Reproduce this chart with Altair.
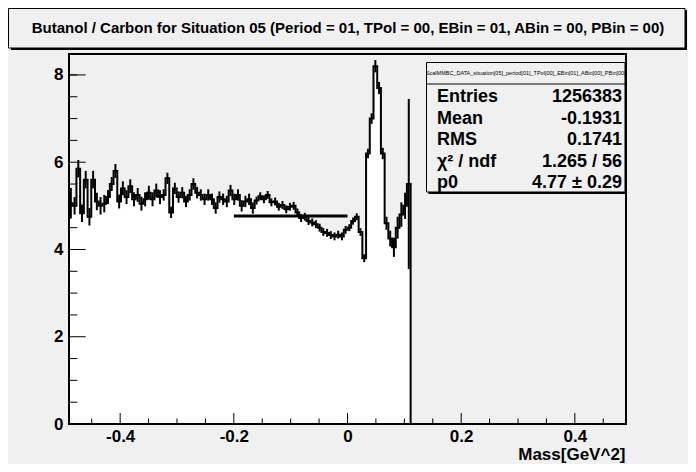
import altair as alt
import pandas as pd

# ---------------- data ----------------
x_min, x_max, n_bins = -0.49, 0.49, 150

filled_values = [
    5.06, 5.00, 5.85, 4.83, 5.60, 4.75, 5.60, 5.10, 5.00, 5.05,
    5.20, 5.50, 5.80, 5.10, 5.40, 5.20, 5.45, 5.15, 5.25, 5.05,
    5.15, 5.30, 5.15, 5.35, 5.20, 5.25, 5.63, 4.85, 5.40, 5.20,
    5.30, 5.10, 5.25, 5.50, 5.30, 5.25, 5.15, 5.25, 5.15, 4.95,
    5.20, 5.15, 5.10, 5.35, 5.15, 5.25, 5.00, 5.10, 5.15, 4.95,
    5.12, 5.22, 5.15, 5.25, 5.08, 5.10, 4.98, 5.02, 4.92, 4.98,
    5.00, 4.85, 4.72, 4.75, 4.65, 4.62, 4.58, 4.50, 4.40, 4.38,
    4.33, 4.30, 4.34, 4.30, 4.45, 4.50, 4.65, 4.75, 4.40, 3.80,
    6.20, 7.00, 8.20, 7.70, 6.20, 4.60, 4.25, 4.05, 4.50, 4.80,
    5.00, 5.50,
]
filled_errors = [
    0.35, 0.20, 0.20, 0.20, 0.20, 0.20, 0.20, 0.20, 0.20, 0.20,
    0.16, 0.16, 0.16, 0.16, 0.16, 0.16, 0.16, 0.16, 0.16, 0.16,
    0.16, 0.16, 0.16, 0.16, 0.16, 0.13, 0.13, 0.13, 0.13, 0.13,
    0.13, 0.13, 0.13, 0.13, 0.13, 0.13, 0.13, 0.13, 0.13, 0.13,
    0.13, 0.13, 0.13, 0.13, 0.13, 0.13, 0.13, 0.13, 0.13, 0.13,
    0.09, 0.09, 0.09, 0.09, 0.09, 0.09, 0.09, 0.09, 0.09, 0.09,
    0.09, 0.09, 0.09, 0.09, 0.09, 0.09, 0.09, 0.09, 0.09, 0.09,
    0.09, 0.09, 0.09, 0.09, 0.09, 0.08, 0.08, 0.08, 0.09, 0.09,
    0.11, 0.12, 0.14, 0.14, 0.13, 0.15, 0.18, 0.22, 0.25, 0.28,
    0.30, 1.95,
]
empty_values = [0.0] * (n_bins - len(filled_values))
empty_errors = [0.0] * (n_bins - len(filled_errors))

fit_range = [-0.2, 0.0]
fit_p0 = 4.77

x_major = [-0.4, -0.2, 0.0, 0.2, 0.4]
x_minor = [-0.45, -0.35, -0.3, -0.25, -0.15, -0.1, -0.05, 0.05, 0.1, 0.15,
           0.25, 0.3, 0.35, 0.45]
y_major = [0, 2, 4, 6, 8]
y_minor = [0.5, 1, 1.5, 2.5, 3, 3.5, 4.5, 5, 5.5, 6.5, 7, 7.5, 8]
y_max = 8.48

title_text = "Butanol / Carbon for Situation 05 (Period = 01, TPol = 00, EBin = 01, ABin = 00, PBin = 00)"
stats_header = "ScalMMBC_DATA_situation[05]_period[01]_TPol[00]_EBin[01]_ABin[00]_PBin[00]"
stat_labels = ["Entries", "Mean", "RMS", "\u03c7\u00b2 / ndf", "p0"]
stat_values = ["1256383", "-0.1931", "0.1741", "1.265 / 56", "4.77 \u00b1 0.29"]

# ---------------- tables ----------------
W, H = 557, 370
bg = "#f0f0f0"
font = "Liberation Sans"
bw = (x_max - x_min) / n_bins
values = filled_values + empty_values
errors = filled_errors + empty_errors

step_df = pd.DataFrame({
    "x": [x_min + k * bw for k in range(n_bins)] + [x_max],
    "y": values + [0.0],
})
err_df = pd.DataFrame({
    "c": [x_min + (k + 0.5) * bw for k in range(n_bins)],
    "lo": [v - e for v, e in zip(values, errors)],
    "hi": [v + e for v, e in zip(values, errors)],
    "e": errors,
})
err_df = err_df[err_df["e"] > 0]
fit_df = pd.DataFrame({"x0": [fit_range[0]], "x1": [fit_range[1]], "p0": [fit_p0]})
dummy = pd.DataFrame({"a": [0]})

xs = alt.Scale(domain=[x_min, x_max], nice=False, zero=False)
ys = alt.Scale(domain=[0, y_max], nice=False, zero=False)

x_axis = alt.Axis(
    values=x_major, ticks=False, tickSize=0, domain=False, grid=False,
    labelExpr="datum.value == 0 ? '0' : (datum.value < 0 ? '-' : '') + format(abs(datum.value), '.1f')",
    labelFont=font, labelFontWeight="bold", labelFontSize=17, labelColor="black",
    labelPadding=4, labelOverlap=False, labelFlush=False,
    title="Mass[GeV^2]", titleFont=font, titleFontWeight="bold", titleFontSize=17,
    titleColor="black", titleAnchor="end", titleAlign="right", titleBaseline="middle",
    titleX=W - 1, titleY=30,
)
y_axis = alt.Axis(
    values=y_major, ticks=False, tickSize=0, domain=False, grid=False,
    labelFont=font, labelFontWeight="bold", labelFontSize=17, labelColor="black",
    labelPadding=6, labelOverlap=False, labelFlush=False, title=None,
)

def X(field):
    return alt.X(field, scale=xs, axis=x_axis)

def Y(field):
    return alt.Y(field, scale=ys, axis=y_axis)

area = alt.Chart(step_df).mark_area(interpolate="step-after", color="white", opacity=1).encode(
    x=X("x:Q"), y=Y("y:Q"),
)
line = alt.Chart(step_df).mark_line(interpolate="step-after", color="black", strokeWidth=2).encode(
    x=X("x:Q"), y=Y("y:Q"),
)
errs = alt.Chart(err_df).mark_rule(color="black", strokeWidth=2).encode(
    x=X("c:Q"), y=Y("lo:Q"), y2="hi:Q",
)
fit = alt.Chart(fit_df).mark_rule(color="black", strokeWidth=3).encode(
    x=X("x0:Q"), x2="x1:Q", y=Y("p0:Q"),
)

def xticks(vals, length):
    return alt.Chart(pd.DataFrame({"v": vals})).mark_rule(color="black", strokeWidth=1).encode(
        x=X("v:Q"), y=alt.value(H), y2=alt.value(H - length))

def yticks(vals, length):
    return alt.Chart(pd.DataFrame({"v": vals})).mark_rule(color="black", strokeWidth=1).encode(
        y=Y("v:Q"), x=alt.value(0), x2=alt.value(length))

frame = alt.Chart(dummy).mark_rect(fillOpacity=0, stroke="black", strokeWidth=2).encode(
    x=alt.value(0), x2=alt.value(W), y=alt.value(0), y2=alt.value(H))

# title box (shadow + box + text)
t_shadow = alt.Chart(dummy).mark_rect(fill="black").encode(
    x=alt.value(-58), x2=alt.value(618), y=alt.value(-44), y2=alt.value(-4))
t_box = alt.Chart(dummy).mark_rect(fill=bg, stroke="black", strokeWidth=1).encode(
    x=alt.value(-60.5), x2=alt.value(616), y=alt.value(-45.5), y2=alt.value(-6))
t_text = alt.Chart(dummy).mark_text(
    text=title_text, font=font, fontWeight="bold", fontSize=15, color="black",
    align="center", baseline="middle").encode(x=alt.value(279), y=alt.value(-26))

# stats box
s_x0, s_x1, s_y0, s_y1 = 357.5, 556, 8.5, 138
s_shadow = alt.Chart(dummy).mark_rect(fill="black").encode(
    x=alt.value(s_x0 + 2), x2=alt.value(s_x1 + 2), y=alt.value(s_y0 + 2), y2=alt.value(s_y1 + 2))
s_box = alt.Chart(dummy).mark_rect(fill=bg, stroke="black", strokeWidth=1).encode(
    x=alt.value(s_x0), x2=alt.value(s_x1), y=alt.value(s_y0), y2=alt.value(s_y1))
s_div = alt.Chart(dummy).mark_rule(color="black", strokeWidth=1).encode(
    x=alt.value(s_x0), x2=alt.value(s_x1), y=alt.value(30))
s_head = alt.Chart(dummy).mark_text(
    text=stats_header, font=font, fontSize=5.5, color="black",
    align="center", baseline="middle").encode(x=alt.value((s_x0 + s_x1) / 2), y=alt.value(19))

stat_layers = []
for i, (lab, val) in enumerate(zip(stat_labels, stat_values)):
    yy = 43 + i * 21.5
    stat_layers.append(alt.Chart(dummy).mark_text(
        text=lab, font=font, fontWeight="bold", fontSize=18, color="black",
        align="left", baseline="middle").encode(x=alt.value(368), y=alt.value(yy)))
    stat_layers.append(alt.Chart(dummy).mark_text(
        text=val, font=font, fontWeight="bold", fontSize=18, color="black",
        align="right", baseline="middle").encode(x=alt.value(553), y=alt.value(yy)))

chart = alt.layer(
    area, line, errs, fit,
    xticks(x_major, 11), xticks(x_minor, 5.5),
    yticks(y_major, 16.7), yticks(y_minor, 8.4),
    frame,
    t_shadow, t_box, t_text,
    s_shadow, s_box, s_div, s_head, *stat_layers,
).properties(
    width=W, height=H,
    padding={"left": 61, "top": 46, "right": 62, "bottom": 40},
    autosize=alt.AutoSizeParams(type="none"),
    background=bg,
).configure_view(stroke=None)

chart.save("out.html", embed_options={"renderer": "svg", "actions": False})
